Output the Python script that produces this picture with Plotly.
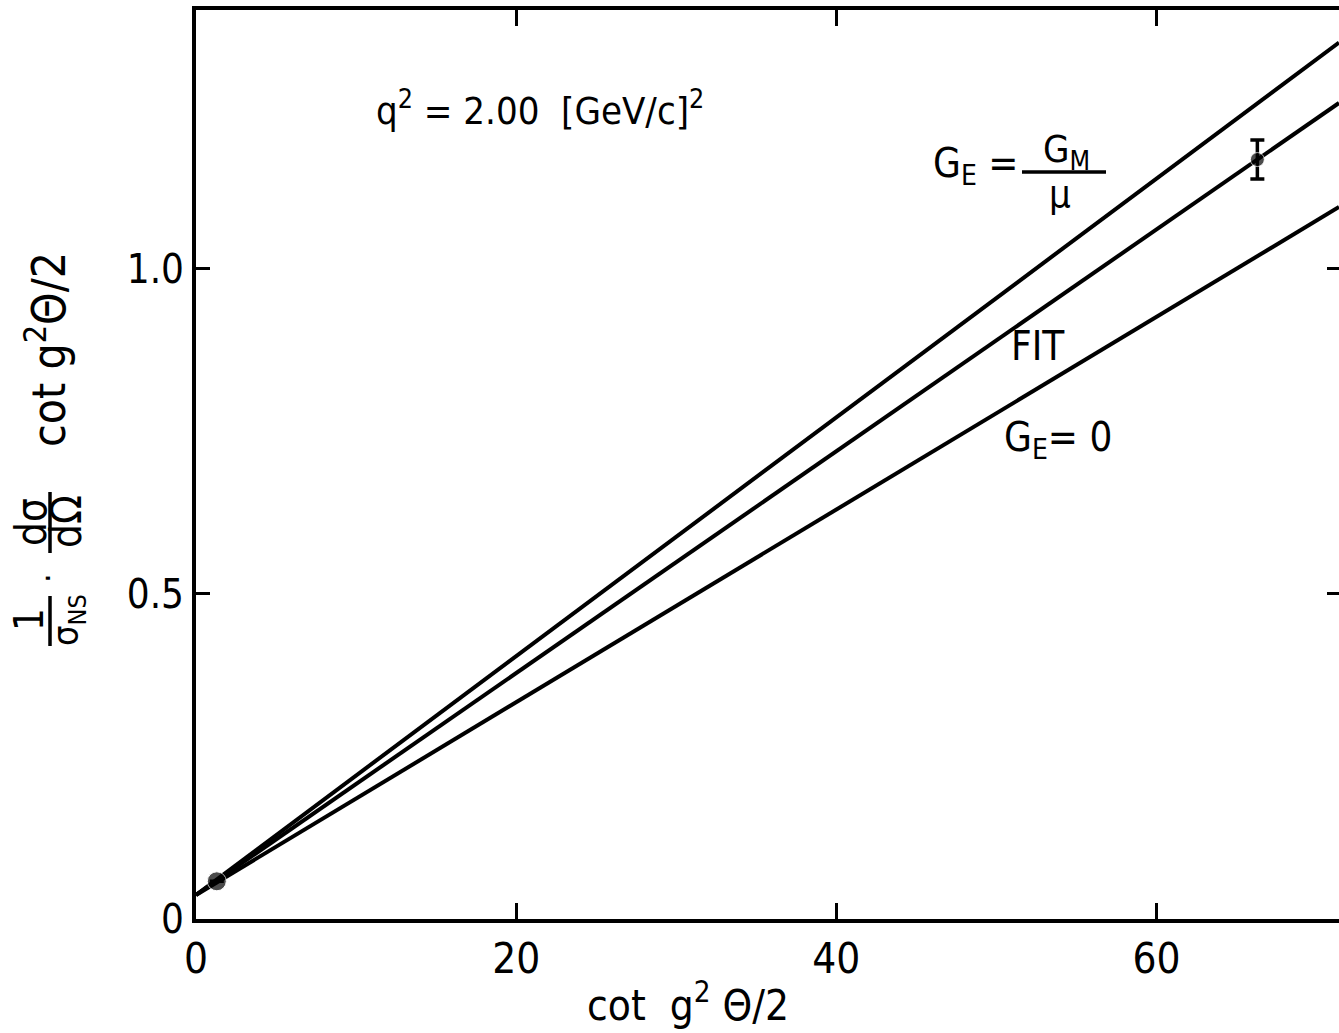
import plotly.graph_objects as go

# ---- data ----
line_x = [0.0, 71.4]
gm_over_mu_y = [0.037, 1.348]   # G_E = G_M/mu
fit_y = [0.037, 1.255]          # FIT
ge0_y = [0.037, 1.095]          # G_E = 0

point_x = [1.3, 66.3]
point_y = [0.058, 1.168]
point_err = [0.0, 0.03]

x_ticks = [0, 20, 40, 60]
x_tick_labels = ["0", "20", "40", "60"]
y_ticks = [0, 0.5, 1.0]
y_tick_labels = ["0", "0.5", "1.0"]

X_RANGE = [0, 71.4]
Y_RANGE = [0, 1.398]

W, H = 1339, 1033
L, R, T, B = 196, 0, 10, 1033 - 919
FONT = "DejaVu Sans Condensed, Liberation Sans Narrow, DejaVu Sans, sans-serif"

def px2paper(px, py):
    return (px - L) / (W - L - R), (H - B - py) / (H - T - B)

fig = go.Figure()
for ys in (gm_over_mu_y, fit_y, ge0_y):
    fig.add_trace(go.Scatter(x=line_x, y=ys, mode="lines",
                             line=dict(color="black", width=4),
                             showlegend=False, hoverinfo="skip"))

fig.add_trace(go.Scatter(x=point_x, y=point_y, mode="markers",
                         marker=dict(color="black", size=[19, 14]),
                         error_y=dict(type="data", array=point_err, visible=True,
                                      color="black", thickness=3.5, width=7),
                         showlegend=False))

# ghost trace for right y axis
fig.add_trace(go.Scatter(x=[None], y=[None], yaxis="y2", showlegend=False))

anns = []
def ann(px, py, text, size=36, angle=0, xa="center", ya="middle"):
    xp, yp = px2paper(px, py)
    anns.append(dict(x=xp, y=yp, xref="paper", yref="paper", text=text,
                     showarrow=False, textangle=angle, xanchor=xa, yanchor=ya,
                     font=dict(family=FONT, size=size, color="black")))

ann(540, 108, "q<sup>2</sup> = 2.00  [GeV/c]<sup>2</sup>", size=38)
ann(1020, 166, "G<sub>E</sub> =", size=40, xa="right")
ann(1066, 152, "G<sub>M</sub>", size=38)
ann(1060, 194, "μ", size=38)
ann(1038, 346, "FIT", size=40)
ann(1058, 440, "G<sub>E</sub>= 0", size=40)
ann(688, 1002, "cot  g<sup>2</sup> Θ/2", size=42)   # x axis title

# y axis label pieces (rotated)
ann(29, 620, "1", size=40, angle=-90)
ann(68, 620, "σ<sub>NS</sub>", size=36, angle=-90)
ann(48, 578, "·", size=34, angle=-90)
ann(31, 522, "dσ", size=42, angle=-90)
ann(66, 522, "dΩ", size=42, angle=-90)
ann(46, 350, "cot g<sup>2</sup>Θ/2", size=46, angle=-90)

shapes = []
def seg(x0, y0, x1, y1, w=3.5):
    a0, b0 = px2paper(x0, y0)
    a1, b1 = px2paper(x1, y1)
    shapes.append(dict(type="line", xref="paper", yref="paper", x0=a0, y0=b0,
                       x1=a1, y1=b1, line=dict(color="black", width=w)))

seg(1022, 172, 1106, 172)      # G_M / mu fraction bar
seg(50, 596, 50, 646)          # 1/sigma_NS bar
seg(50, 492, 50, 553)          # dsigma/dOmega bar

fig.update_layout(
    width=W, height=H,
    margin=dict(l=L, r=R, t=T, b=B),
    plot_bgcolor="white", paper_bgcolor="white",
    font=dict(family=FONT, size=42, color="black"),
    annotations=anns, shapes=shapes,
    xaxis=dict(range=X_RANGE, tickvals=x_ticks, ticktext=x_tick_labels,
               ticks="inside", ticklen=16, tickwidth=3, tickcolor="black",
               showline=True, linewidth=4, linecolor="black", mirror="ticks",
               showgrid=False, zeroline=False,
               tickfont=dict(size=42)),
    yaxis=dict(range=Y_RANGE, tickvals=y_ticks, ticktext=y_tick_labels,
               ticks="inside", ticklen=14, tickwidth=3, tickcolor="black",
               showline=True, linewidth=4, linecolor="black",
               showgrid=False, zeroline=False, tickfont=dict(size=40)),
    yaxis2=dict(range=Y_RANGE, overlaying="y", side="right", tickvals=[0.5, 1.0],
                ticks="inside", ticklen=12, tickwidth=3, tickcolor="black",
                showticklabels=False, showline=False, showgrid=False, zeroline=False),
)

fig.write_html("out.html", config={"displayModeBar": False},
               post_script="document.body.style.margin='0px';document.body.style.overflow='hidden';")
